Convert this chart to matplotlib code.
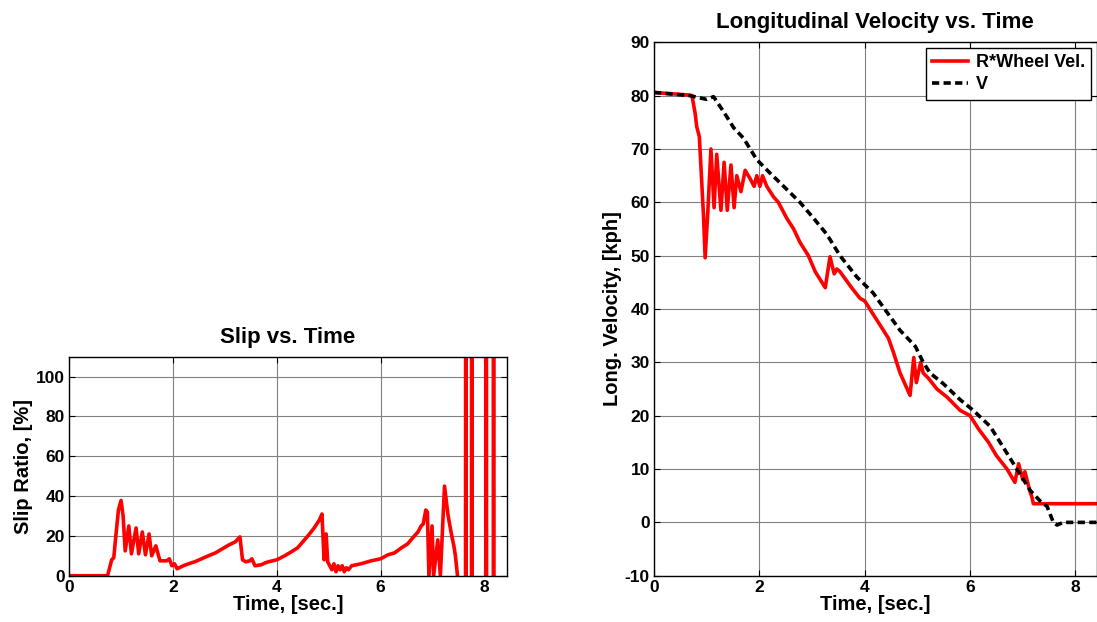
import matplotlib
matplotlib.use("Agg")
import matplotlib.pyplot as plt

plt.rcParams['font.family'] = ['Liberation Sans', 'DejaVu Sans']
plt.rcParams['font.weight'] = 'bold'
plt.rcParams['axes.unicode_minus'] = False

# --- slip ratio [%] vs time [s] ---
slip_t = [0, 0.74, 0.78, 0.82, 0.86, 0.9, 0.95, 1.0, 1.04, 1.08, 1.15, 1.2, 1.29, 1.34,
          1.41, 1.47, 1.54, 1.59, 1.67, 1.75, 1.88, 1.93, 1.98, 2.03, 2.08, 2.2, 2.3,
          2.42, 2.55, 2.68, 2.82, 2.95, 3.08, 3.2, 3.29, 3.34, 3.4, 3.48, 3.52, 3.58,
          3.7, 3.78, 3.84, 4.0, 4.15, 4.28, 4.4, 4.5, 4.63, 4.72, 4.82, 4.87, 4.91,
          4.95, 4.98, 5.02, 5.06, 5.1, 5.14, 5.18, 5.22, 5.26, 5.3, 5.34, 5.38, 5.44,
          5.62, 5.82, 6.0, 6.14, 6.27, 6.4, 6.52, 6.65, 6.72, 6.78, 6.82, 6.87, 6.9,
          6.93, 6.99, 7.02, 7.1, 7.15, 7.23, 7.3, 7.37, 7.41, 7.44, 7.48, 7.55,
          7.635, 7.64, 7.645, 7.75, 7.755, 7.76, 8.03, 8.035, 8.04, 8.17, 8.175, 8.18, 8.5]
slip_v = [0, 0, 4, 8, 9, 20, 33, 37.8, 30, 12.5, 25, 11, 24, 11,
          22, 10.5, 21, 10, 15, 7.5, 7.5, 8.5, 5, 6, 3.5, 5, 6,
          7, 8.5, 10, 11.5, 13.5, 15.5, 17, 19.5, 8, 7, 7.5, 8.5, 5,
          5.5, 6.5, 7, 8, 10, 12, 14, 17, 21, 24, 28, 31, 8,
          21, 7, 5, 3, 6, 2, 5, 3, 5, 2, 4, 3, 5,
          6, 7.5, 8.5, 10.5, 11.5, 14, 16, 20, 22, 25, 26, 33, 32,
          0, 25, 0, 18, 0, 45, 30, 20, 15, 10, 0, -50,
          -50, 400, -50, -50, 400, -50, -50, 400, -50, -50, 400, -50, -50]

# --- longitudinal velocity [kph] vs time [s] ---
wheel_t = [0, 0.68, 0.72, 0.78, 0.81, 0.86, 0.89, 0.94, 0.97, 1.02, 1.08, 1.14, 1.19, 1.27,
           1.33, 1.39, 1.46, 1.52, 1.57, 1.65, 1.73, 1.82, 1.9, 1.95, 2.01, 2.06, 2.14, 2.27,
           2.36, 2.52, 2.65, 2.77, 2.93, 3.06, 3.25, 3.34, 3.42, 3.47, 3.53, 3.75, 3.91, 4.0,
           4.16, 4.29, 4.45, 4.54, 4.67, 4.86, 4.93, 4.98, 5.06, 5.11, 5.21, 5.37, 5.56, 5.81,
           6.0, 6.16, 6.35, 6.5, 6.7, 6.85, 6.92, 7.0, 7.04, 7.13, 7.18, 7.2, 8.5]
wheel_v = [80.6, 80.1, 80, 76.7, 74.2, 72.3, 66.7, 57.3, 49.6, 58, 70, 59, 69, 58.5,
           67.5, 58.5, 67, 59, 65, 62, 66, 64.5, 63, 65, 63, 65, 63, 61,
           60, 57, 55, 52.5, 50, 47, 44, 49.8, 46.6, 47.5, 47, 44, 42, 41.5,
           39, 37, 34.5, 32, 28, 23.8, 30.9, 26.2, 30, 28, 27, 25, 23.5, 21,
           20, 17.5, 15, 12.5, 10, 7.5, 11, 8, 9.5, 6, 4.5, 3.5, 3.5]

veh_t = [0, 0.68, 1.0, 1.13, 1.32, 1.51, 1.7, 1.95, 2.2, 2.46, 2.77, 3.03, 3.28, 3.53,
         3.85, 4.16, 4.26, 4.67, 4.96, 5.11, 5.24, 5.49, 5.81, 6.06, 6.38, 6.57, 6.76,
         6.95, 7.14, 7.33, 7.46, 7.58, 7.65, 7.77, 8.5]
veh_v = [80.6, 80, 79.3, 79.8, 77, 74, 72, 68, 65.5, 63, 60, 57, 54, 50,
         46, 43, 41.6, 36, 33, 30, 28, 26, 23, 21, 18, 15, 12,
         9, 6, 4, 3, 0, -0.5, 0, 0]

fig = plt.figure(figsize=(10.97, 6.22), dpi=100)
ax1 = fig.add_axes([0.063, 0.0744, 0.399, 0.3521])
ax2 = fig.add_axes([0.5962, 0.0744, 0.4034, 0.8576])

ax1.plot(slip_t, slip_v, color='red', lw=2.6)
ax1.set_xlim(0, 8.43)
ax1.set_ylim(0, 110)
ax1.set_xticks([0, 2, 4, 6, 8])
ax1.set_yticks([0, 20, 40, 60, 80, 100])
ax1.set_title("Slip vs. Time", fontsize=16, fontweight='bold', pad=10)
ax1.set_xlabel("Time, [sec.]", fontsize=14.5, fontweight='bold', labelpad=0)
ax1.set_ylabel("Slip Ratio, [%]", fontsize=14.5, fontweight='bold', labelpad=2)

ax2.plot(wheel_t, wheel_v, color='red', lw=2.6, label='R*Wheel Vel.')
ax2.plot(veh_t, veh_v, color='black', lw=2.6, ls=(0, (2.0, 1.2)), label='V')
ax2.set_xlim(0, 8.4)
ax2.set_ylim(-10, 90)
ax2.set_xticks([0, 2, 4, 6, 8])
ax2.set_yticks(range(-10, 91, 10))
ax2.set_title("Longitudinal Velocity vs. Time", fontsize=16, fontweight='bold', pad=10)
ax2.set_xlabel("Time, [sec.]", fontsize=14.5, fontweight='bold', labelpad=0)
ax2.set_ylabel("Long. Velocity, [kph]", fontsize=14.5, fontweight='bold', labelpad=2)
leg = ax2.legend(loc='upper right', prop={'weight': 'bold', 'size': 13},
                 fancybox=False, framealpha=1, edgecolor='black', borderaxespad=0.3,
                 handlelength=2.0, borderpad=0.35, labelspacing=0.3, handletextpad=0.4)
leg.get_frame().set_linewidth(1.0)

for ax in (ax1, ax2):
    ax.grid(True, color='0.5', lw=0.8)
    ax.set_axisbelow(True)
    ax.tick_params(direction='in', top=True, right=True, length=4, width=0.8,
                   labelsize=12.5, pad=3)
    for lab in ax.get_xticklabels() + ax.get_yticklabels():
        lab.set_fontweight('bold')
    for s in ax.spines.values():
        s.set_linewidth(1.0)

fig.savefig("out.png", dpi=100)
